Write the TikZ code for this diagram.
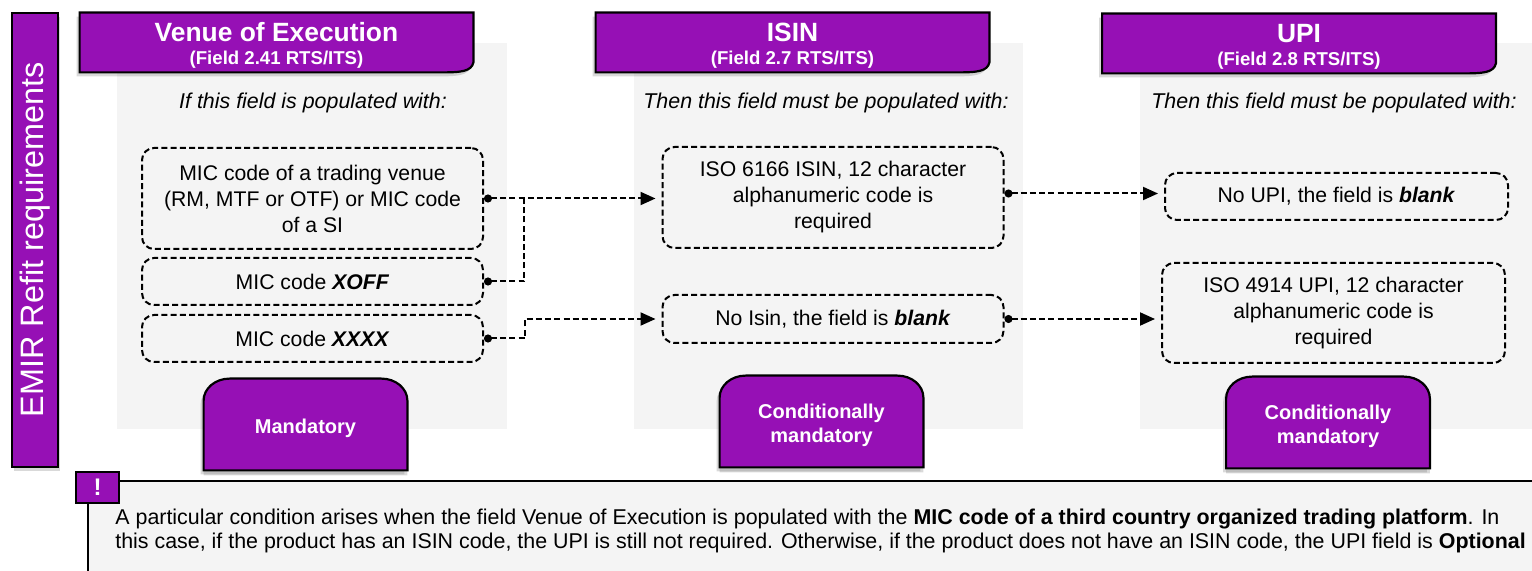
\documentclass[tikz,border=0pt]{standalone}
\usepackage{fontspec}
\setmainfont{Liberation Sans}
\usepackage{tikz}
\usetikzlibrary{positioning,arrows.meta,shadows,backgrounds}
\definecolor{emirpurple}{RGB}{150,16,181}
\definecolor{panelgray}{RGB}{244,244,244}
\tikzstyle{sidebar} = [rectangle, fill=emirpurple, draw=black, line width=1.1pt,
                       minimum width=227pt, minimum height=23pt, text=white,
                       font=\fontsize{16.2}{19}\selectfont,
                       drop shadow={shadow xshift=1pt, shadow yshift=-2pt, opacity=0.3}]
\tikzstyle{headtab} = [
    rectangle,                 % Only holds the text
    minimum width=196.5pt,     % Width
    minimum height=29.5pt,     % Height
    inner sep=0pt,
    align=center,
    text=white,
    font=\bfseries
]
\tikzstyle{tabshape} = [fill=emirpurple, draw=black, line width=1.1pt,
                        drop shadow={shadow xshift=-1.5pt, shadow yshift=-2pt, opacity=0.3}]
\tikzstyle{fieldbox} = [
    rectangle,                 % Shape
    draw=black,                % Border color
    line width=1pt,
    dash pattern=on 3pt off 1.6pt,
    rounded corners=6pt,       % Rounded
    minimum width=170.5pt,     % Width
    inner sep=0pt,
    align=center,              % Centered text
    font=\fontsize{10.6}{13}\selectfont
]
\tikzstyle{askline} = [font=\fontsize{10.7}{13}\selectfont\itshape]
\tikzstyle{link} = [line width=1pt, dash pattern=on 3pt off 1.6pt]
\tikzstyle{arrow} = [link, {Circle[length=4pt]}-{Triangle[length=7.5pt,width=6.5pt]}, shorten >=3pt]
\tikzstyle{footab} = [minimum width=101.5pt, minimum height=45.5pt, inner sep=0pt,
                      align=center, text=white, font=\fontsize{10}{12}\selectfont\bfseries]
\newcommand{\tabtitle}[2]{{\fontsize{13.2}{15}\selectfont #1}\\[-0.5pt]{\fontsize{9.3}{11}\selectfont #2}}

\begin{document}
\begin{tikzpicture}[x=0.5pt, y=-0.5pt]
		\useasboundingbox (0,0) rectangle (1532,571);

		% Grey panels
		\begin{scope}[on background layer]
			\fill[panelgray] (117,43) rectangle (507,429);
			\fill[panelgray] (634,43) rectangle (1023,429);
			\fill[panelgray] (1140,43) rectangle (1532,429);
			\fill[panelgray] (88,481) rectangle (1532,571);
		\end{scope}

		% Side bar
		\node[sidebar, rotate=90] (emir) at (35,240) {EMIR Refit requirements};

		% Header tabs (text sits 3px low, shapes are lifted back)
		\node[headtab] (venue) at (276.5,45.5) {\tabtitle{Venue of Execution}{(Field 2.41 RTS/ITS)}};
		\node[headtab] (isin) at (792.5,45.5) {\tabtitle{ISIN}{(Field 2.7 RTS/ITS)}};
		\node[headtab] (upi) at (1299,46.5) {\tabtitle{UPI}{(Field 2.8 RTS/ITS)}};

		% Questions
		\node[askline] (ask1) at (313,103) {If this field is populated with:};
		\node[askline] (ask2) at (826,103) {Then this field must be populated with:};
		\node[askline] (ask3) at (1334,103) {Then this field must be populated with:};

		% Venue values
		\node[fieldbox, minimum height=50.5pt] (mic) at (312.5,198.5) {MIC code of a trading venue\\(RM, MTF or OTF) or MIC code\\of a SI};
		\node[fieldbox, minimum height=23.5pt] (xoff) at (312.5,281.5) {MIC code \textbf{\textit{XOFF}}};
		\node[fieldbox, minimum height=23.5pt] (xxxx) at (312.5,338.5) {MIC code \textbf{\textit{XXXX}}};

		% ISIN values
		\node[fieldbox, minimum height=50.5pt] (isinreq) at (833,197.5) {ISO 6166 ISIN, 12 character\\alphanumeric code is\\required};
		\node[fieldbox, minimum height=24pt] (isinblank) at (833,319) {No Isin, the field is \textbf{\textit{blank}}};

		% UPI values
		\node[fieldbox, minimum height=23.5pt, minimum width=171.5pt] (upiblank) at (1336.5,196.5) {No UPI, the field is \textbf{\textit{blank}}};
		\node[fieldbox, minimum height=50pt, minimum width=171.5pt] (upireq) at (1333.5,313) {ISO 4914 UPI, 12 character\\alphanumeric code is\\required};

		% Footer tabs (text sits 4px low)
		\node[footab] (mand) at (305.5,428.5) {Mandatory};
		\node[footab] (condisin) at (821.5,425.5) {Conditionally\\mandatory};
		\node[footab] (condupi) at (1328,426.5) {Conditionally\\mandatory};

		% Tab shapes
		\begin{scope}[on background layer]
			\foreach \t in {venue,isin,upi}
				\path[tabshape] ([yshift=1.5pt]\t.north west) -- ([yshift=1.5pt]\t.north east) -- ([yshift=6.5pt]\t.south east)
					.. controls ([shift={(-1pt,2pt)}]\t.south east) and ([shift={(-6pt,1.5pt)}]\t.south east) .. ([shift={(-16pt,1.5pt)}]\t.south east)
					-- ([yshift=1.5pt]\t.south west) -- cycle;
			\foreach \t in {mand,condisin,condupi}
				\path[tabshape, drop shadow={shadow xshift=0pt, shadow yshift=-2.5pt, opacity=0.3}]
					([yshift=2pt]\t.south west) -- ([yshift=-9pt]\t.north west) arc[start angle=180, end angle=90, x radius=13pt, y radius=11pt]
					-- ([shift={(-13pt,2pt)}]\t.north east) arc[start angle=90, end angle=0, x radius=13pt, y radius=11pt]
					-- ([yshift=2pt]\t.south east) -- cycle;
		\end{scope}

		% Arrows
		\coordinate (merge) at (524,198.5);
		\draw[arrow] (mic.east) -- (mic.east -| isinreq.west);
		\draw[link, {Circle[length=4pt]}-] (xoff.east) -| (merge);
		\draw[arrow] (xxxx.east) -- ++(41,0) |- (isinblank.west);
		\draw[arrow] ([yshift=2pt]isinreq.east) -- ([yshift=2pt]isinreq.east -| upiblank.west);
		\draw[arrow] (isinblank.east) -- (isinblank.east -| upireq.west);

		% Note
		\node[rectangle, fill=emirpurple, draw=black, line width=1pt, minimum width=21.5pt, minimum height=15.5pt,
			inner sep=0pt, text=white, font=\fontsize{12}{14}\selectfont\bfseries] (warn) at (97.5,487.5) {!};
		\coordinate (noteend) at (1532,481);
		\coordinate (notefoot) at (88,571);
		\draw[line width=1.1pt] (warn.east |- noteend) -- (noteend);
		\draw[line width=1.1pt] (warn.south -| notefoot) -- (notefoot);
		\node[anchor=west, align=left, inner sep=0pt, font=\fontsize{10.7}{11.7}\selectfont] (note) at (115,531)
			{A particular condition arises when the field Venue of Execution is populated with the \textbf{MIC code of a third country organized trading platform}. In\\
			this case, if the product has an ISIN code, the UPI is still not required. Otherwise, if the product does not have an ISIN code, the UPI field is \textbf{Optional}};
	\end{tikzpicture}
\end{document}
